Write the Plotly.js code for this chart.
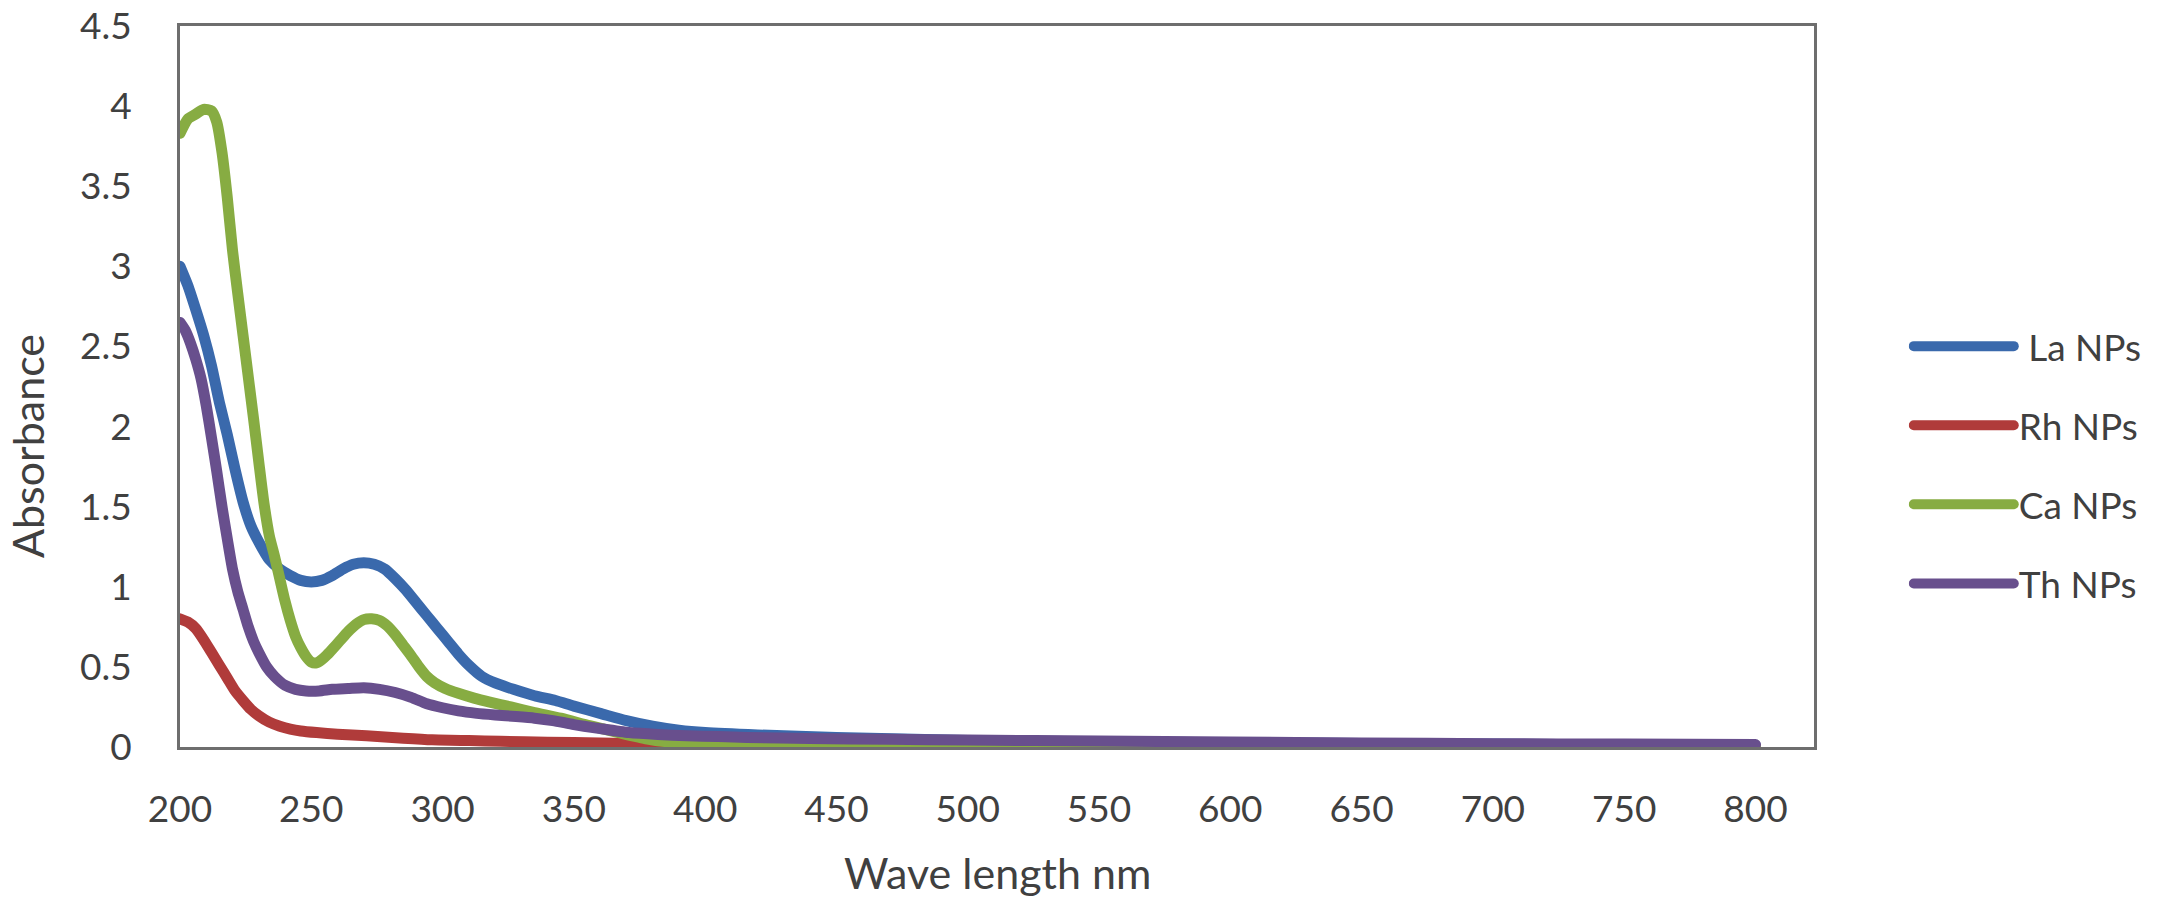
<!DOCTYPE html>
<html>
<head>
<meta charset="utf-8">
<script src="https://cdn.plot.ly/plotly-3.0.1.min.js"></script>
<style>
html,body{margin:0;padding:0;background:#fff;}
#chart{width:2175px;height:909px;}
#chart path.js-line{stroke-linecap:round;stroke-linejoin:round;}
</style>
</head>
<body>
<div id="chart"></div>
<script>
// Series names
const seriesNames = ['\u00A0La NPs', 'Rh NPs', 'Ca NPs', 'Th NPs'];

// La NPs
const laWave = [200,203,206,209,212,215,218,221,224,227,230,234,238,242,246,250,254,258,262,266,270,274,278,282,286,290,294,298,302,306,310,315,320,327,335,343,350,360,370,380,390,400,420,450,500,550,600,650,700,750,800];
const laAbs  = [3.00,2.88,2.73,2.57,2.38,2.15,1.95,1.73,1.53,1.38,1.28,1.17,1.11,1.07,1.04,1.03,1.04,1.07,1.11,1.14,1.15,1.14,1.11,1.05,0.98,0.90,0.82,0.74,0.66,0.58,0.51,0.44,0.40,0.36,0.32,0.29,0.255,0.21,0.165,0.13,0.105,0.09,0.075,0.06,0.04,0.032,0.027,0.022,0.018,0.014,0.01];

// Rh NPs
const rhWave = [200,203,206,209,212,215,218,221,224,227,230,234,238,242,246,252,260,271,285,296,310,322,340,360,380,400,425,450,500,550,600,700,800];
const rhAbs  = [0.80,0.78,0.74,0.67,0.59,0.51,0.43,0.35,0.29,0.235,0.195,0.155,0.13,0.112,0.10,0.09,0.08,0.07,0.055,0.045,0.04,0.036,0.03,0.025,0.02,0.015,0.01,0.008,0.005,0.004,0.003,0.002,0.001];

// Ca NPs
const caWave = [200,203,206,209,212,214,216,218,220,222,224,226,228,230,232,234,236,238,240,242,244,246,248,250,252,254,256,258,261,264,267,270,273,276,279,282,285,288,291,294,297,301,306,312,318,326,335,345,356,367,378,390,407,430,500,600,700,800];
const caAbs  = [3.83,3.92,3.95,3.98,3.97,3.90,3.71,3.43,3.10,2.83,2.57,2.31,2.05,1.78,1.52,1.32,1.19,1.05,0.91,0.79,0.69,0.62,0.565,0.53,0.525,0.545,0.575,0.61,0.665,0.72,0.765,0.795,0.80,0.79,0.755,0.70,0.635,0.57,0.50,0.44,0.40,0.365,0.335,0.305,0.28,0.25,0.215,0.18,0.133,0.09,0.05,0.025,0.012,0.008,0.005,0.003,0.002,0.001];

// Th NPs
const thWave = [200,202,204,206,208,210,212,214,216,218,220,222,224,226,228,230,233,236,240,244,248,253,258,264,270,276,282,288,294,300,306,313,320,328,335,342,350,360,371,382,393,405,416,440,470,500,550,600,650,700,750,800];
const thAbs  = [2.65,2.60,2.52,2.42,2.30,2.13,1.93,1.72,1.50,1.30,1.11,0.97,0.86,0.75,0.66,0.59,0.50,0.44,0.385,0.36,0.35,0.35,0.36,0.365,0.37,0.36,0.34,0.31,0.27,0.245,0.225,0.21,0.20,0.19,0.18,0.165,0.14,0.115,0.09,0.078,0.07,0.065,0.06,0.053,0.048,0.043,0.037,0.031,0.025,0.021,0.018,0.015];

// Axis ticks
const xTicks = [200,250,300,350,400,450,500,550,600,650,700,750,800];
const yTicks = [0,0.5,1,1.5,2,2.5,3,3.5,4,4.5];
const yTickText = ['0','0.5','1','1.5','2','2.5','3','3.5','4','4.5'];

const colors = ['#3A69AC', '#B03B3A', '#87AC42', '#684F8D'];
const waves = [laWave, rhWave, caWave, thWave];
const absVals = [laAbs, rhAbs, caAbs, thAbs];

const traces = seriesNames.map((name, i) => ({
  x: waves[i], y: absVals[i], name: name, type: 'scatter', mode: 'lines',
  legendgroup: 'g' + i,
  line: {color: colors[i], width: 11, shape: 'spline', smoothing: 0.6},
  hoverinfo: 'x+y+name'
}));

const fontFam = 'Lato, "Open Sans", sans-serif';
const layout = {
  width: 2175, height: 909,
  paper_bgcolor: '#ffffff', plot_bgcolor: '#ffffff',
  margin: {l: 180, r: 361, t: 26, b: 162, pad: 0},
  font: {family: fontFam, color: '#404040', size: 37},
  showlegend: true,
  legend: {
    x: 1.058, xanchor: 'left', y: 0.391, yanchor: 'middle',
    traceorder: 'grouped', tracegroupgap: 28,
    itemwidth: 100,
    font: {family: fontFam, size: 37, color: '#404040'},
    bgcolor: 'rgba(0,0,0,0)'
  },
  xaxis: {
    range: [200, 822.3], tickvals: xTicks, ticktext: xTicks.map(String),
    showgrid: false, zeroline: false, showline: true, mirror: true,
    linecolor: '#6E6E6E', linewidth: 3, ticks: '', ticklabelstandoff: 28,
    tickfont: {family: fontFam, size: 37, color: '#404040'}
  },
  yaxis: {
    range: [0, 4.5], tickvals: yTicks, ticktext: yTickText,
    showgrid: false, zeroline: false, showline: true, mirror: true,
    linecolor: '#6E6E6E', linewidth: 3, ticks: '', ticklabelstandoff: 38,
    tickfont: {family: fontFam, size: 37, color: '#404040'}
  },
  annotations: [
    {text: 'Wave length nm', xref: 'paper', yref: 'paper', x: 0.5, y: -0.1743,
     xanchor: 'center', yanchor: 'middle', showarrow: false,
     font: {family: fontFam, size: 43, color: '#404040'}},
    {text: 'Absorbance', xref: 'paper', yref: 'paper', x: -0.0929, y: 0.4177,
     xanchor: 'center', yanchor: 'middle', showarrow: false, textangle: -90,
     font: {family: fontFam, size: 43, color: '#404040'}}
  ]
};

Plotly.newPlot('chart', traces, layout, {displayModeBar: false, staticPlot: true});
</script>
</body>
</html>
